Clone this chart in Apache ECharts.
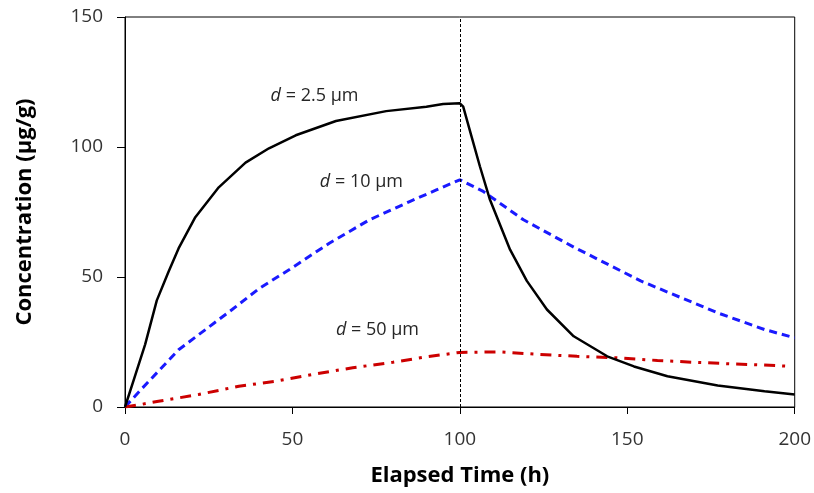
<!DOCTYPE html>
<html>
<head>
<meta charset="utf-8">
<script src="https://cdn.jsdelivr.net/npm/echarts@6/dist/echarts.min.js"></script>
<style>
  html, body { margin: 0; padding: 0; background: #fff; }
  #chart { width: 814px; height: 493px; }
</style>
</head>
<body>
<div id="chart"></div>
<script>
// Particle concentration over time, loading phase up to 100 h then washout
const xTicks = [0, 50, 100, 150, 200];
const yTicks = [0, 50, 100, 150];

const timeSmall = [0, 3, 6, 9.5, 13, 16, 21, 28, 36, 43, 51, 63, 78, 90, 95, 100,
  101, 103.5, 106, 109, 115, 120, 126, 134, 144, 152, 162, 177, 191, 200];
const concSmall = [0, 12, 24, 41, 52, 61, 73, 84.5, 94, 99.5, 104.5, 110, 113.8, 115.5, 116.5, 116.8,
  115.5, 104, 92.5, 79.7, 60.5, 48.5, 37.5, 27.2, 19.5, 15.6, 11.8, 8.3, 6.1, 4.8];

const timeMid = [0, 5, 16, 32, 40, 49, 61, 73, 85, 93, 100, 107, 119, 134, 154, 177, 191, 200];
const concMid = [0, 7, 22, 37.5, 45.5, 52.8, 63, 72, 79, 83.5, 87.4, 82.9, 72, 61.5, 48.5, 36.2, 29.8, 26.6];

const timeLarge = [0, 4, 10, 22, 34, 45, 56, 68, 80, 90, 100, 112, 124, 135, 147, 159, 170, 181, 190, 198];
const concLarge = [0, 0.8, 2.2, 4.8, 8, 9.9, 12.5, 15.1, 17.2, 19.3, 21, 21.2, 20.2, 19.5, 18.9, 17.9, 17.2, 16.6, 16.2, 15.7];

const switchTime = 100;

// curve captions: [particle size, time, concentration]
const captions = [
  ['2.5', 56.6, 119.7],
  ['10', 70.6, 86.4],
  ['50', 75.4, 29.8]
];

const FONT = '"Open Sans", Lato, sans-serif';
const zip = (xs, ys) => xs.map((x, i) => [x, ys[i]]);

function caption(c) {
  return {
    symbol: 'circle',
    symbolSize: 0,
    silent: true,
    data: [{ coord: [c[1], c[2]] }],
    label: {
      show: true,
      position: 'inside',
      formatter: '{i|d} = ' + c[0] + ' \u00b5m',
      color: '#262626',
      fontSize: 18,
      fontFamily: FONT,
      rich: { i: { fontStyle: 'italic', fontSize: 18, fontFamily: FONT, color: '#262626' } }
    }
  };
}

const chart = echarts.init(document.getElementById('chart'), null, { renderer: 'canvas' });
chart.setOption({
  animation: false,
  backgroundColor: '#fff',
  grid: {
    left: 125, right: 19, top: 17, bottom: 86,
    show: true, borderColor: '#000', borderWidth: 1
  },
  xAxis: {
    type: 'value',
    min: xTicks[0], max: xTicks[xTicks.length - 1], interval: 50,
    name: 'Elapsed Time (h)',
    nameLocation: 'middle',
    nameGap: 58,
    nameTextStyle: { fontSize: 22, fontWeight: 'bold', color: '#000', fontFamily: FONT },
    axisLine: { show: true, lineStyle: { color: '#000', width: 1 } },
    axisTick: { show: true, inside: false, length: 7, lineStyle: { color: '#000' } },
    axisLabel: { margin: 23, fontSize: 19, color: '#333', fontFamily: FONT },
    splitLine: { show: false }
  },
  yAxis: {
    type: 'value',
    min: yTicks[0], max: yTicks[yTicks.length - 1], interval: 50,
    name: 'Concentration (\u00b5g/g)',
    nameLocation: 'middle',
    nameGap: 89,
    nameRotate: 90,
    nameTextStyle: { fontSize: 22, fontWeight: 'bold', color: '#000', fontFamily: FONT },
    axisLine: { show: true, lineStyle: { color: '#000', width: 1 } },
    axisTick: { show: true, inside: false, length: 8, lineStyle: { color: '#000' } },
    axisLabel: { margin: 22, fontSize: 19, color: '#333', fontFamily: FONT },
    splitLine: { show: false }
  },
  series: [
    {
      name: 'd = 2.5 um',
      type: 'line',
      data: zip(timeSmall, concSmall),
      showSymbol: false,
      z: 4,
      lineStyle: { color: '#000', width: 2.5, type: 'solid' },
      markPoint: caption(captions[0]),
      markLine: {
        silent: true,
        symbol: 'none',
        label: { show: false },
        lineStyle: { color: '#000', width: 1, type: [3, 2] },
        data: [{ xAxis: switchTime }]
      }
    },
    {
      name: 'd = 10 um',
      type: 'line',
      data: zip(timeMid, concMid),
      showSymbol: false,
      z: 3,
      lineStyle: { color: '#1a1aff', width: 3, type: [8, 5] },
      markPoint: caption(captions[1])
    },
    {
      name: 'd = 50 um',
      type: 'line',
      data: zip(timeLarge, concLarge),
      showSymbol: false,
      z: 3,
      lineStyle: { color: '#cc0000', width: 3, type: [11, 7, 3, 7] },
      markPoint: caption(captions[2])
    }
  ]
});
</script>
</body>
</html>
